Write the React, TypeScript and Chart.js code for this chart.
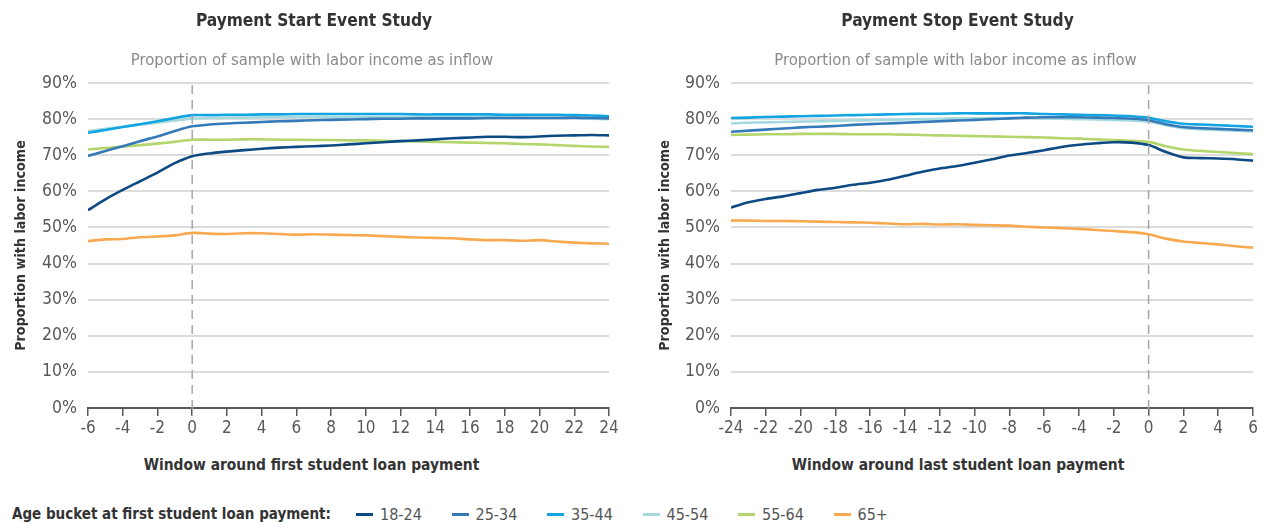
import React, { useEffect, useRef } from "react";
import { Chart, registerables } from "chart.js";

Chart.register(...registerables);

const startMonths = [-6, -5, -4, -3, -2, -1, 0, 1, 2, 3, 4, 5, 6, 7, 8, 9, 10, 11, 12, 13, 14, 15, 16, 17, 18, 19, 20, 21, 22, 23, 24];
const stopMonths = [-24, -23, -22, -21, -20, -19, -18, -17, -16, -15, -14, -13, -12, -11, -10, -9, -8, -7, -6, -5, -4, -3, -2, -1, 0, 1, 2, 3, 4, 5, 6];

const ageBuckets = ["18-24", "25-34", "35-44", "45-54", "55-64", "65+"];
const bucketColors = ["#0b4a82", "#3479b8", "#12a5e2", "#a5d9de", "#b4d56b", "#f8a94f"];

const start_18_24 = [54.8, 57.8, 60.4, 62.8, 65.2, 67.8, 69.7, 70.5, 71.0, 71.4, 71.8, 72.1, 72.3, 72.5, 72.7, 73.0, 73.3, 73.6, 73.9, 74.1, 74.4, 74.7, 74.9, 75.1, 75.1, 75.0, 75.2, 75.4, 75.5, 75.6, 75.5];
const start_25_34 = [69.8, 71.2, 72.5, 73.9, 75.2, 76.7, 78.0, 78.5, 78.8, 79.0, 79.2, 79.4, 79.5, 79.7, 79.8, 79.9, 80.0, 80.1, 80.1, 80.2, 80.2, 80.2, 80.2, 80.3, 80.3, 80.3, 80.3, 80.3, 80.4, 80.3, 80.2];
const start_35_44 = [76.2, 77.0, 77.8, 78.6, 79.4, 80.3, 81.1, 81.1, 81.2, 81.2, 81.3, 81.3, 81.4, 81.4, 81.4, 81.4, 81.4, 81.4, 81.4, 81.3, 81.3, 81.3, 81.3, 81.3, 81.2, 81.2, 81.2, 81.2, 81.1, 81.0, 80.8];
const start_45_54 = [76.7, 77.3, 77.9, 78.5, 79.0, 79.6, 80.2, 80.3, 80.4, 80.4, 80.5, 80.5, 80.6, 80.6, 80.6, 80.6, 80.6, 80.6, 80.6, 80.6, 80.6, 80.6, 80.6, 80.5, 80.5, 80.5, 80.4, 80.4, 80.3, 80.1, 80.0];
const start_55_64 = [71.6, 72.0, 72.4, 72.8, 73.2, 73.7, 74.3, 74.3, 74.3, 74.4, 74.4, 74.3, 74.3, 74.2, 74.2, 74.1, 74.1, 74.0, 73.9, 73.8, 73.7, 73.6, 73.5, 73.4, 73.3, 73.1, 73.0, 72.8, 72.6, 72.4, 72.3];
const start_65_plus = [46.2, 46.7, 46.8, 47.3, 47.5, 47.8, 48.5, 48.3, 48.2, 48.4, 48.4, 48.2, 48.0, 48.1, 48.0, 47.9, 47.8, 47.6, 47.4, 47.2, 47.1, 47.0, 46.7, 46.5, 46.5, 46.3, 46.5, 46.1, 45.8, 45.6, 45.5];

const stop_18_24 = [55.5, 57.0, 57.9, 58.6, 59.5, 60.4, 61.0, 61.8, 62.4, 63.2, 64.3, 65.4, 66.3, 67.0, 67.9, 68.9, 69.9, 70.6, 71.4, 72.3, 72.9, 73.3, 73.6, 73.5, 72.8, 70.9, 69.4, 69.2, 69.1, 68.9, 68.5];
const stop_25_34 = [76.5, 76.8, 77.1, 77.4, 77.7, 77.9, 78.1, 78.4, 78.6, 78.8, 79.0, 79.2, 79.4, 79.6, 79.8, 80.0, 80.2, 80.4, 80.5, 80.5, 80.5, 80.4, 80.3, 80.1, 79.7, 78.6, 77.8, 77.5, 77.3, 77.1, 76.9];
const stop_35_44 = [80.3, 80.4, 80.6, 80.7, 80.8, 80.9, 81.0, 81.1, 81.2, 81.3, 81.4, 81.5, 81.5, 81.6, 81.6, 81.6, 81.6, 81.6, 81.4, 81.3, 81.2, 81.1, 81.0, 80.8, 80.4, 79.4, 78.7, 78.5, 78.3, 78.1, 77.9];
const stop_45_54 = [78.8, 79.0, 79.1, 79.2, 79.3, 79.4, 79.5, 79.6, 79.7, 79.8, 79.9, 80.0, 80.1, 80.2, 80.2, 80.3, 80.3, 80.3, 80.2, 80.1, 80.0, 79.9, 79.8, 79.6, 79.3, 78.3, 77.5, 77.2, 77.0, 76.8, 76.6];
const stop_55_64 = [75.6, 75.7, 75.8, 75.8, 75.9, 75.9, 75.9, 75.8, 75.8, 75.8, 75.7, 75.6, 75.5, 75.4, 75.3, 75.2, 75.1, 75.0, 74.9, 74.7, 74.6, 74.4, 74.2, 74.0, 73.7, 72.5, 71.6, 71.2, 70.9, 70.6, 70.3];
const stop_65_plus = [51.9, 51.9, 51.8, 51.8, 51.7, 51.6, 51.5, 51.4, 51.3, 51.1, 50.9, 51.0, 50.8, 50.9, 50.7, 50.6, 50.5, 50.2, 50.0, 49.8, 49.6, 49.3, 49.0, 48.7, 48.1, 46.9, 46.1, 45.7, 45.3, 44.8, 44.4];

const yTicks = [0, 10, 20, 30, 40, 50, 60, 70, 80, 90];

const COND = "'DejaVu Sans Condensed', 'DejaVu Sans', sans-serif";

const dashedZeroPlugin = {
  id: "dashedZero",
  afterDatasetsDraw(chart: any) {
    const { ctx, chartArea, scales } = chart;
    const x = scales.x.getPixelForValue(0);
    ctx.save();
    ctx.strokeStyle = "#a6a6a6";
    ctx.lineWidth = 1.5;
    ctx.setLineDash([9, 6]);
    ctx.beginPath();
    ctx.moveTo(x, chartArea.top + 2);
    ctx.lineTo(x, chartArea.bottom + 8);
    ctx.stroke();
    ctx.restore();
  },
};

function makeConfig(months: number[], series: number[][], xMin: number, xMax: number, yAxisWidth: number, titleOffset: number, padRight: number) {
  const datasets = series.map((vals, i) => ({
    label: ageBuckets[i],
    data: months.map((m, j) => ({ x: m, y: vals[j] })),
    borderColor: bucketColors[i],
    backgroundColor: bucketColors[i],
    borderWidth: 2.6,
    pointRadius: 0,
    tension: 0.25,
    fill: false,
  }));
  return {
    type: "line" as const,
    data: { datasets },
    plugins: [dashedZeroPlugin],
    options: {
      animation: false as const,
      responsive: false,
      devicePixelRatio: 1,
      layout: { padding: { top: 83, right: padRight, left: 0, bottom: 0 } },
      plugins: { legend: { display: false }, tooltip: { enabled: false }, title: { display: false } },
      scales: {
        x: {
          type: "linear" as const,
          min: xMin,
          max: xMax,
          afterFit(s: any) { s.height = 32; },
          ticks: {
            stepSize: 2,
            color: "#595959",
            padding: 2,
            maxRotation: 0,
            autoSkip: false,
            font: { family: COND, size: 17 },
          },
          grid: {
            drawOnChartArea: false,
            drawTicks: true,
            tickLength: 8,
            color: "#595959",
            lineWidth: 1.5,
          },
          border: { display: true, color: "#595959", width: 2 },
        },
        y: {
          min: 0,
          max: 90,
          afterFit(s: any) { s.width = yAxisWidth; },
          afterBuildTicks(s: any) { s.ticks = yTicks.map((v) => ({ value: v })); },
          ticks: {
            color: "#595959",
            padding: 11,
            font: { family: COND, size: 17.5 },
            callback: (v: any) => v + "%",
          },
          grid: { drawTicks: false, color: "#dcdcdc", lineWidth: 2 },
          border: { display: false },
          title: {
            display: true,
            text: "Proportion with labor income",
            color: "#333333",
            font: { family: COND, size: 14.2, weight: "bold" as const },
            padding: { top: titleOffset, bottom: 0 },
          },
        },
      },
    },
  };
}

function ChartCanvas({ cfg, width, height, left }: any) {
  const ref = useRef<HTMLCanvasElement | null>(null);
  useEffect(() => {
    if (!ref.current) return;
    const chart = new Chart(ref.current, cfg as any);
    return () => chart.destroy();
  }, []);
  return <canvas ref={ref} width={width} height={height} style={{ position: "absolute", left, top: 0, width, height }} />;
}

const textBase: React.CSSProperties = { position: "absolute", textAlign: "center", whiteSpace: "nowrap", fontFamily: COND };

export default function App() {
  const leftCfg = makeConfig(startMonths, [start_18_24, start_25_34, start_35_44, start_45_54, start_55_64, start_65_plus], -6, 24, 88, 13, 23);
  const rightCfg = makeConfig(stopMonths, [stop_18_24, stop_25_34, stop_35_44, stop_45_54, stop_55_64, stop_65_plus], -24, 6, 87, 13, 12);
  return (
    <div style={{ position: "fixed", left: 0, top: 0, width: 1265, height: 523, background: "#fff", overflow: "hidden" }}>
      <ChartCanvas cfg={leftCfg} width={632} height={440} left={0} />
      <ChartCanvas cfg={rightCfg} width={621} height={440} left={644} />

      <div style={{ ...textBase, left: 0, width: 628, top: 9, lineHeight: "22px", fontSize: 17.2, fontWeight: "bold", color: "#333" }}>Payment Start Event Study</div>
      <div style={{ ...textBase, left: 0, width: 624, top: 49, lineHeight: "22px", fontSize: 16.5, color: "#8a8a8a" }}>Proportion of sample with labor income as inflow</div>
      <div style={{ ...textBase, left: 0, width: 623, top: 454, lineHeight: "22px", fontSize: 15.4, fontWeight: "bold", color: "#333" }}>Window around first student loan payment</div>

      <div style={{ ...textBase, left: 644, width: 627, top: 9, lineHeight: "22px", fontSize: 17.2, fontWeight: "bold", color: "#333" }}>Payment Stop Event Study</div>
      <div style={{ ...textBase, left: 644, width: 623, top: 49, lineHeight: "22px", fontSize: 16.5, color: "#8a8a8a" }}>Proportion of sample with labor income as inflow</div>
      <div style={{ ...textBase, left: 644, width: 628, top: 454, lineHeight: "22px", fontSize: 15.4, fontWeight: "bold", color: "#333" }}>Window around last student loan payment</div>

      <div style={{ position: "absolute", left: 12, top: 503, height: 22, lineHeight: "22px", fontFamily: COND, whiteSpace: "nowrap", fontSize: 15, fontWeight: "bold", color: "#333" }}>
        Age bucket at first student loan payment:
      </div>
      {ageBuckets.map((b, i) => (
        <div key={b} style={{ position: "absolute", left: 356 + i * 95.5, top: 503, height: 22, display: "flex", alignItems: "center", fontFamily: COND, whiteSpace: "nowrap" }}>
          <span style={{ display: "inline-block", width: 17, height: 3, background: bucketColors[i], marginRight: 7 }} />
          <span style={{ fontSize: 16, color: "#555" }}>{b}</span>
        </div>
      ))}
    </div>
  );
}
